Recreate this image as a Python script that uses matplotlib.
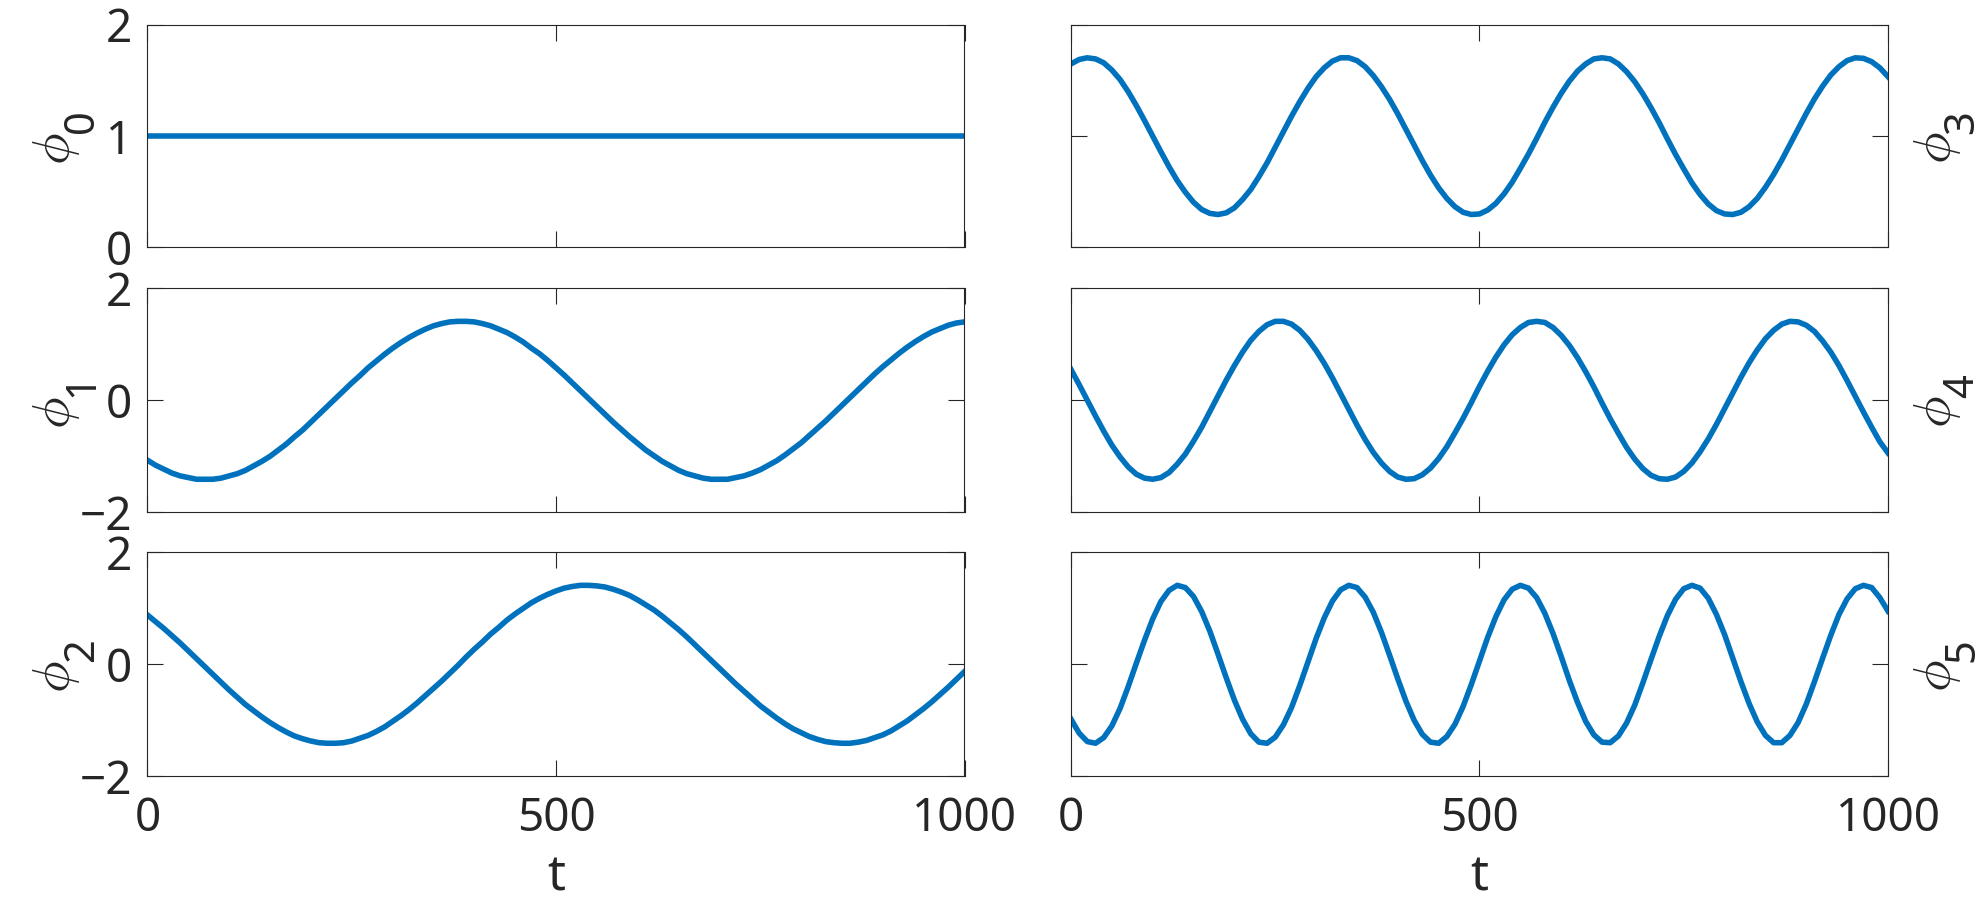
import matplotlib
matplotlib.use('Agg')
import matplotlib.pyplot as plt
import numpy as np

plt.rcParams['font.family'] = ['Noto Sans', 'DejaVu Sans']
plt.rcParams['mathtext.fontset'] = 'cm'
plt.rcParams['axes.unicode_minus'] = True

# data (t from 0 to 1000)
t_const = [0, 1000]
phi0 = [1.0, 1.0]

t = np.arange(0, 1001, 10)
phi1 = [-1.07, -1.16, -1.23, -1.30, -1.35, -1.38, -1.41, -1.41, -1.41, -1.39,
        -1.35, -1.31, -1.25, -1.17, -1.09, -1.00, -0.89, -0.78, -0.65, -0.53,
        -0.39, -0.25, -0.11, 0.03, 0.17, 0.31, 0.44, 0.58, 0.70, 0.82,
        0.93, 1.03, 1.12, 1.20, 1.27, 1.33, 1.37, 1.40, 1.41, 1.41,
        1.40, 1.37, 1.33, 1.27, 1.21, 1.13, 1.04, 0.93, 0.83, 0.71,
        0.58, 0.45, 0.31, 0.17, 0.03, -0.11, -0.25, -0.39, -0.52, -0.65,
        -0.77, -0.89, -0.99, -1.09, -1.17, -1.25, -1.31, -1.35, -1.39, -1.41,
        -1.41, -1.41, -1.38, -1.35, -1.30, -1.24, -1.16, -1.08, -0.98, -0.87,
        -0.76, -0.63, -0.50, -0.37, -0.23, -0.09, 0.05, 0.19, 0.33, 0.47,
        0.60, 0.72, 0.84, 0.95, 1.05, 1.14, 1.22, 1.28, 1.34, 1.38, 1.40]
phi2 = [0.88, 0.76, 0.64, 0.51, 0.38, 0.24, 0.10, -0.04, -0.18, -0.32,
        -0.46, -0.59, -0.72, -0.83, -0.94, -1.04, -1.13, -1.21, -1.28, -1.33,
        -1.37, -1.40, -1.41, -1.41, -1.40, -1.37, -1.32, -1.27, -1.20, -1.12,
        -1.02, -0.92, -0.81, -0.69, -0.56, -0.43, -0.30, -0.16, -0.02, 0.13,
        0.27, 0.40, 0.54, 0.66, 0.79, 0.90, 1.00, 1.10, 1.18, 1.25,
        1.31, 1.36, 1.39, 1.41, 1.41, 1.40, 1.38, 1.34, 1.29, 1.23,
        1.15, 1.06, 0.97, 0.86, 0.74, 0.62, 0.49, 0.35, 0.21, 0.07,
        -0.07, -0.21, -0.35, -0.48, -0.61, -0.74, -0.85, -0.96, -1.06, -1.15,
        -1.22, -1.29, -1.34, -1.38, -1.40, -1.41, -1.41, -1.39, -1.36, -1.31,
        -1.26, -1.19, -1.10, -1.01, -0.90, -0.79, -0.67, -0.54, -0.41, -0.27, -0.13]
phi3 = [1.30, 1.38, 1.41, 1.39, 1.32, 1.19, 1.02, 0.80, 0.55, 0.28,
        0.00, -0.28, -0.55, -0.80, -1.01, -1.19, -1.32, -1.39, -1.41, -1.38,
        -1.29, -1.14, -0.96, -0.73, -0.48, -0.20, 0.08, 0.36, 0.62, 0.86,
        1.07, 1.23, 1.35, 1.41, 1.41, 1.36, 1.25, 1.09, 0.89, 0.66,
        0.40, 0.12, -0.16, -0.44, -0.70, -0.93, -1.12, -1.27, -1.37, -1.41,
        -1.40, -1.33, -1.21, -1.04, -0.83, -0.58, -0.32, -0.04, 0.25, 0.52,
        0.77, 0.99, 1.17, 1.30, 1.39, 1.41, 1.39, 1.30, 1.16, 0.98,
        0.76, 0.51, 0.24, -0.05, -0.33, -0.59, -0.84, -1.05, -1.22, -1.34,
        -1.40, -1.41, -1.37, -1.27, -1.12, -0.92, -0.69, -0.43, -0.15, 0.13,
        0.41, 0.67, 0.90, 1.10, 1.25, 1.36, 1.41, 1.40, 1.34, 1.23, 1.07]
phi4 = [0.55, 0.28, 0.00, -0.28, -0.55, -0.80, -1.01, -1.19, -1.32, -1.39,
        -1.41, -1.38, -1.29, -1.14, -0.96, -0.73, -0.48, -0.20, 0.08, 0.36,
        0.62, 0.86, 1.07, 1.23, 1.35, 1.41, 1.41, 1.36, 1.25, 1.09,
        0.89, 0.66, 0.40, 0.12, -0.16, -0.44, -0.70, -0.93, -1.12, -1.27,
        -1.37, -1.41, -1.40, -1.33, -1.21, -1.04, -0.83, -0.58, -0.32, -0.04,
        0.25, 0.52, 0.77, 0.99, 1.17, 1.30, 1.39, 1.41, 1.39, 1.30,
        1.16, 0.98, 0.76, 0.51, 0.24, -0.05, -0.33, -0.59, -0.84, -1.05,
        -1.22, -1.34, -1.40, -1.41, -1.37, -1.27, -1.12, -0.92, -0.69, -0.43,
        -0.15, 0.13, 0.41, 0.67, 0.90, 1.10, 1.25, 1.36, 1.41, 1.40,
        1.34, 1.23, 1.06, 0.86, 0.62, 0.35, 0.07, -0.21, -0.48, -0.74, -0.94]
phi5 = [-0.98, -1.23, -1.38, -1.41, -1.31, -1.10, -0.79, -0.40, 0.02, 0.43,
        0.81, 1.12, 1.32, 1.41, 1.37, 1.21, 0.94, 0.59, 0.18, -0.24,
        -0.64, -0.98, -1.24, -1.39, -1.41, -1.30, -1.08, -0.77, -0.38, 0.04,
        0.46, 0.83, 1.13, 1.33, 1.41, 1.37, 1.20, 0.93, 0.57, 0.16,
        -0.26, -0.66, -1.00, -1.25, -1.39, -1.41, -1.29, -1.07, -0.75, -0.36,
        0.06, 0.48, 0.85, 1.15, 1.34, 1.41, 1.36, 1.19, 0.91, 0.55,
        0.14, -0.29, -0.68, -1.02, -1.26, -1.39, -1.40, -1.28, -1.05, -0.73,
        -0.33, 0.09, 0.50, 0.87, 1.16, 1.35, 1.41, 1.36, 1.18, 0.89,
        0.53, 0.11, -0.31, -0.70, -1.03, -1.27, -1.40, -1.40, -1.27, -1.04,
        -0.71, -0.31, 0.11, 0.52, 0.89, 1.17, 1.35, 1.41, 1.37, 1.19, 0.95]

xticks = [0, 500, 1000]
names = ['0', '1', '2', '3', '4', '5']

series = [(t_const, phi0), (t, phi1), (t, phi2), (t, phi3), (t, phi4), (t, phi5)]
ylims = [(0, 2), (-2, 2), (-2, 2), (-2, 2), (-2, 2), (-2, 2)]
yticks = [[0, 1, 2], [-2, 0, 2], [-2, 0, 2], [-2, 0, 2], [-2, 0, 2], [-2, 0, 2]]

W, H = 1981, 901
col_x = [147.5, 1071]
col_w = 817
row_y = [(25, 247.3), (288.3, 512.3), (552.3, 776.3)]

blue = '#0072BD'
dark = '#262626'

fig = plt.figure(figsize=(W / 100, H / 100), dpi=100)

for i in range(6):
    col = i // 3
    row = i % 3
    top, bot = row_y[row]
    ax = fig.add_axes([col_x[col] / W, 1 - bot / H, col_w / W, (bot - top) / H])
    tx, y = series[i]
    ax.plot(tx, y, color=blue, lw=4.0)
    ax.set_xlim(0, 1000)
    ax.set_ylim(*ylims[i])
    ax.set_xticks(xticks)
    ax.set_yticks(yticks[i])
    ax.tick_params(direction='in', length=11.5, width=0.8, color=dark,
                   labelcolor=dark, labelsize=33, top=True, right=True, pad=11)
    ax.tick_params(axis='x', pad=14)
    for s in ax.spines.values():
        s.set_color(dark)
        s.set_linewidth(0.8)
    if row < 2:
        ax.tick_params(labelbottom=False)
    else:
        ax.set_xlabel('t', fontsize=36, color=dark, labelpad=8)
    if col == 1:
        ax.tick_params(labelleft=False)

    # y label: phi with a large subscript, like the original
    if col == 0:
        xa, dphi, dsub = 0, (-91.5, -13), (-65.5, 15.5)
    else:
        xa, dphi, dsub = 1, (48.5, -12), (74.5, 14.5)
    ax.annotate(r'$\phi$', xy=(xa, 0.5), xycoords='axes fraction',
                xytext=dphi, textcoords='offset pixels', rotation=90,
                ha='center', va='center', fontsize=38, color=dark)
    ax.annotate(names[i], xy=(xa, 0.5), xycoords='axes fraction',
                xytext=dsub, textcoords='offset pixels', rotation=90,
                ha='center', va='center', fontsize=30, color=dark)

fig.savefig('out.png', dpi=100)
